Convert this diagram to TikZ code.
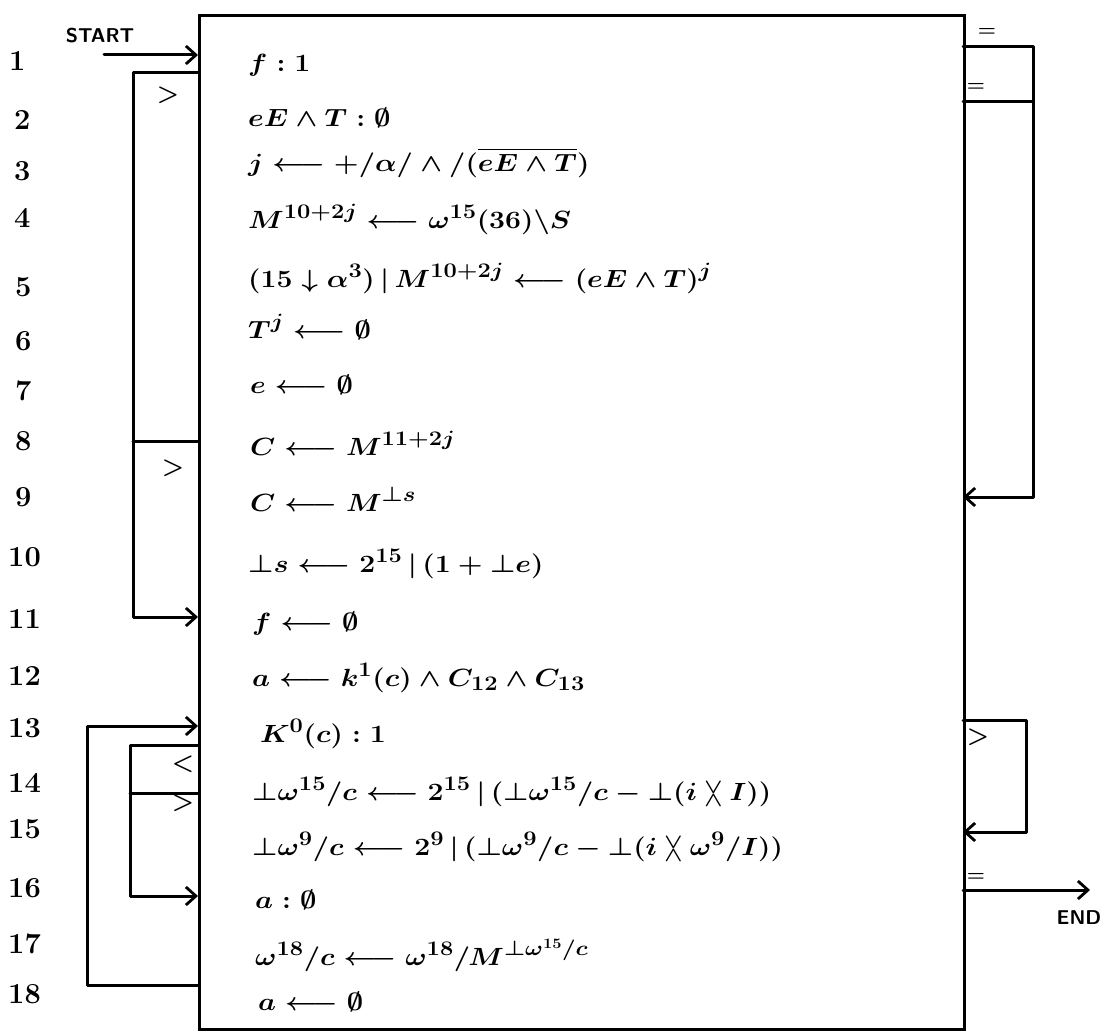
\documentclass[tikz,border=0pt]{standalone}
\usepackage{amsmath,amssymb}
\usetikzlibrary{arrows.meta}
\newcommand{\bt}{\mathord{\perp}}
\newcommand{\ia}{\mathbin{\vcenter{\offinterlineskip\hbox{$\scriptstyle\vee$}\kern1.5pt\hbox{$\scriptstyle\wedge$}}}}
\newcommand{\wx}[1]{\scalebox{1.14}[1]{#1}}
\begin{document}
\begin{tikzpicture}[x=1pt,y=-1pt]
\tikzset{
 ln/.style={line width=3pt, line cap=round, line join=round},
 arr/.style={ln, -{Straight Barb[length=10pt,width=18pt,line width=2.8pt]}},
 num/.style={font=\fontsize{29}{30}\selectfont\bfseries, anchor=base west, inner sep=0pt},
 stmt/.style={font=\fontsize{30}{32}\selectfont\boldmath, anchor=base west, inner sep=0pt},
 tag/.style={font=\fontsize{28}{28}\selectfont\boldmath, inner sep=0pt},
 eqtag/.style={font=\fontsize{22}{22}\selectfont\boldmath, inner sep=0pt},
 word/.style={font=\fontsize{20}{20}\selectfont\sffamily\bfseries, inner sep=0pt}
}
\useasboundingbox (0,0) rectangle (1110,1030);
% main box
\node (box) [draw, line width=3pt, minimum width=765pt, minimum height=1014pt, inner sep=0pt, anchor=north west] at (198,14) {};
% line numbers
\node[num] (n1) at (9,71) {1};
\node[num] (n2) at (14,129) {2};
\node[num] (n3) at (14,180) {3};
\node[num] (n4) at (14,227) {4};
\node[num] (n5) at (15,296) {5};
\node[num] (n6) at (15,350) {6};
\node[num] (n7) at (15,400) {7};
\node[num] (n8) at (15,450) {8};
\node[num] (n9) at (15,506) {9};
\node[num] (n10) at (8,566) {10};
\node[num] (n11) at (8,628) {11};
\node[num] (n12) at (8,685) {12};
\node[num] (n13) at (8,737) {13};
\node[num] (n14) at (8,792) {14};
\node[num] (n15) at (8,838) {15};
\node[num] (n16) at (8,897) {16};
\node[num] (n17) at (8,953) {17};
\node[num] (n18) at (8,1003) {18};
% statements
\node[stmt] (s1) at (248,72) {\wx{$f:1$}};
\node[stmt] (s2) at (248,126) {\wx{$eE\wedge T:\emptyset$}};
\node[stmt] (s3) at (248,171) {\wx{$j\longleftarrow +/\alpha/\wedge/(\overline{eE\wedge T})$}};
\node[stmt] (s4) at (248,228) {\wx{$M^{10+2j}\longleftarrow \omega^{15}(36)\backslash S$}};
\node[stmt] (s5) at (248,287) {\wx{$(15\downarrow\alpha^{3})\,|\,M^{10+2j}\longleftarrow(eE\wedge T)^{j}$}};
\node[stmt] (s6) at (248,338) {\wx{$T^{j}\longleftarrow\emptyset$}};
\node[stmt] (s7) at (250,393) {\wx{$e\longleftarrow\emptyset$}};
\node[stmt] (s8) at (250,455) {\wx{$C\longleftarrow M^{11+2j}$}};
\node[stmt] (s9) at (250,511) {\wx{$C\longleftarrow M^{\bt s}$}};
\node[stmt] (s10) at (248,572) {\wx{$\bt s\longleftarrow 2^{15}\,|\,(1+\bt e)$}};
\node[stmt] (s11) at (252,630) {\wx{$f\longleftarrow\emptyset$}};
\node[stmt] (s12) at (252,686) {\wx{$a\longleftarrow k^{1}(c)\wedge C_{12}\wedge C_{13}$}};
\node[stmt] (s13) at (260,742) {\wx{$K^{0}(c):1$}};
\node[stmt] (s14) at (252,800) {\wx{$\bt\omega^{15}/c\longleftarrow 2^{15}\,|\,(\bt\omega^{15}/c-\bt(i\ia I))$}};
\node[stmt] (s15) at (252,855) {\wx{$\bt\omega^{9}/c\longleftarrow 2^{9}\,|\,(\bt\omega^{9}/c-\bt(i\ia\omega^{9}/I))$}};
\node[stmt] (s16) at (255,908) {\wx{$a:\emptyset$}};
\node[stmt] (s17) at (255,965) {\wx{$\omega^{18}/c\longleftarrow\omega^{18}/M^{\bt\omega^{15}/c}$}};
\node[stmt] (s18) at (258,1010) {\wx{$a\longleftarrow\emptyset$}};
% START
\node[word] (start) at (100,36) {START};
\coordinate (startFrom) at (104,55);
\coordinate (inStart) at (198,55);
\draw[arr] (startFrom) -- (inStart);
% loop rows 2-11
\coordinate (a2) at (198,73);
\coordinate (a8) at (198,441);
\coordinate (a11) at (198,617);
\draw[arr] (a2) -- ++(-65,0) |- (a11);
\draw[ln] (a8) -- ++(-65,0);
\node[tag] (g1) at (168,95) {$>$};
\node[tag] (g2) at (173,468) {$>$};
% loop rows 13-18
\coordinate (b13) at (198,726);
\coordinate (b18) at (198,985);
\draw[arr] (b18) -- ++(-111,0) |- (b13);
% inner loop rows 14-16
\coordinate (c14) at (198,745);
\coordinate (c15) at (198,793);
\coordinate (c16) at (198,896);
\draw[arr] (c14) -- ++(-68,0) |- (c16);
\draw[ln] (c15) -- ++(-68,0);
\node[tag] (l1) at (183,764) {$<$};
\node[tag] (g3) at (183,803) {$>$};
% right side rows 1-9
\coordinate (d1) at (963,47);
\coordinate (d2) at (963,102);
\coordinate (d9) at (963,497);
\draw[arr] (d1) -- ++(70,0) |- (d9);
\draw[ln] (d2) -- ++(70,0);
\node[eqtag] (q1) at (987,32) {$=$};
\node[eqtag] (q2) at (976,87) {$=$};
% right side rows 13-15
\coordinate (e13) at (963,720);
\coordinate (e15) at (963,832);
\draw[arr] (e13) -- ++(63,0) |- (e15);
\node[tag] (g4) at (978,737) {$>$};
% END
\coordinate (e16) at (963,890);
\coordinate (endPt) at (1090,890);
\draw[arr] (e16) -- (endPt);
\node[eqtag] (q3) at (976,877) {$=$};
\node[word] (endw) at (1079,918) {END};
\end{tikzpicture}
\end{document}
